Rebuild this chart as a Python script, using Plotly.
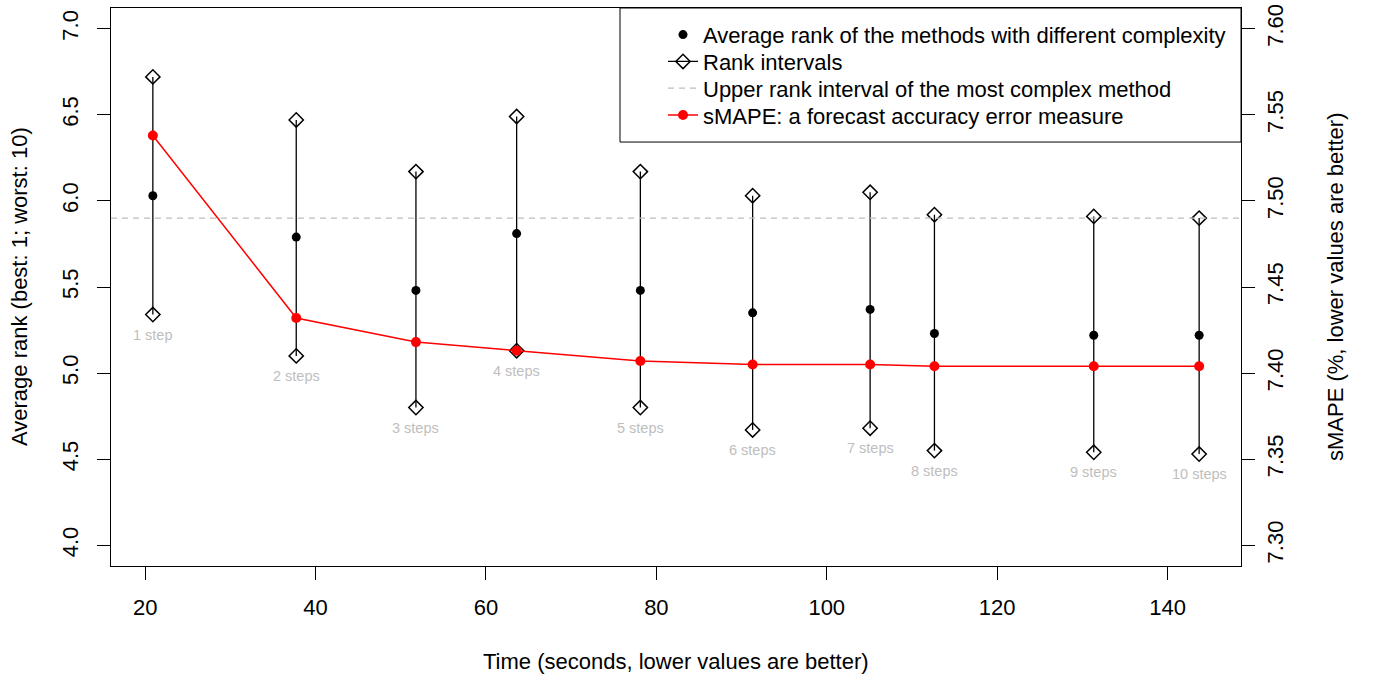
import plotly.graph_objects as go

# ---- data ----
step_labels = ["1 step", "2 steps", "3 steps", "4 steps", "5 steps",
               "6 steps", "7 steps", "8 steps", "9 steps", "10 steps"]
time_sec = [20.90, 37.73, 51.78, 63.60, 78.12, 91.30, 105.09, 112.64, 131.34, 143.71]
rank_mean = [6.03, 5.79, 5.48, 5.81, 5.48, 5.35, 5.37, 5.23, 5.22, 5.22]
rank_upper = [6.72, 6.47, 6.17, 6.49, 6.17, 6.03, 6.05, 5.92, 5.91, 5.90]
rank_lower = [5.34, 5.10, 4.80, 5.13, 4.80, 4.67, 4.68, 4.55, 4.54, 4.53]
smape = [7.538, 7.432, 7.418, 7.413, 7.407, 7.405, 7.405, 7.404, 7.404, 7.404]

x_ticks = [20, 40, 60, 80, 100, 120, 140]
y_ticks = [4.0, 4.5, 5.0, 5.5, 6.0, 6.5, 7.0]
y2_ticks = [7.30, 7.35, 7.40, 7.45, 7.50, 7.55, 7.60]
ylim = (4.0, 7.0)
y2lim = (7.30, 7.60)


def r_range(lo, hi):
    pad = (hi - lo) * 0.04
    return [lo - pad, hi + pad]


xr = r_range(min(time_sec), max(time_sec))
yr = r_range(*ylim)
y2r = r_range(*y2lim)

FONT = "Liberation Sans, Arial, Helvetica, sans-serif"
GREY = "#BEBEBE"

# plot-area geometry in pixels
W, H = 1373, 677
PL, PR, PT, PB = 111, 1241, 4, 566


def px_x(p):
    return (p - PL) / (PR - PL)


def px_y(p):
    return (PB - p) / (PB - PT)


fig = go.Figure()

# rank intervals: vertical segments with open diamonds at ends
ix, iy = [], []
for t, lo, hi in zip(time_sec, rank_lower, rank_upper):
    ix += [t, t, None]
    iy += [lo, hi, None]
fig.add_trace(go.Scatter(
    x=ix, y=iy, mode="lines+markers", name="Rank intervals", legend="legend2",
    line=dict(color="black", width=1.3),
    marker=dict(symbol="diamond-open", size=11, color="black", line=dict(width=1.5, color="black")),
    hoverinfo="skip"))

# average rank points
fig.add_trace(go.Scatter(
    x=time_sec, y=rank_mean, mode="markers", legend="legend",
    name="Average rank of the methods with different complexity",
    marker=dict(symbol="circle", size=9, color="black")))

# dashed horizontal line: upper rank interval of most complex method
fig.add_trace(go.Scatter(
    x=xr, y=[rank_upper[-1], rank_upper[-1]], mode="lines", legend="legend3",
    name="Upper rank interval of the most complex method",
    line=dict(color=GREY, width=1.3, dash="6px,5px"),
    hoverinfo="skip"))

# sMAPE on the secondary axis
fig.add_trace(go.Scatter(
    x=time_sec, y=smape, mode="lines+markers", yaxis="y2", legend="legend4",
    name="sMAPE: a forecast accuracy error measure",
    line=dict(color="#FF0000", width=1.5),
    marker=dict(symbol="circle", size=10, color="#FF0000")))

annotations = []
for t, lo, lab in zip(time_sec, rank_lower, step_labels):
    annotations.append(dict(x=t, y=lo, xref="x", yref="y", text=lab, showarrow=False,
                            yshift=-20, xanchor="center", yanchor="middle",
                            font=dict(family=FONT, size=14.5, color=GREY)))

annotations += [
    dict(x=0.5, y=0, xref="paper", yref="paper", text="Time (seconds, lower values are better)",
         showarrow=False, yshift=-95, xanchor="center", yanchor="middle",
         font=dict(family=FONT, size=22, color="black")),
    dict(x=0, y=0.5, xref="paper", yref="paper", text="Average rank (best: 1; worst: 10)",
         showarrow=False, xshift=-92, textangle=-90, xanchor="center", yanchor="middle",
         font=dict(family=FONT, size=22, color="black")),
    dict(x=1, y=0.5, xref="paper", yref="paper", text="sMAPE (%, lower values are better)",
         showarrow=False, xshift=94, textangle=-90, xanchor="center", yanchor="middle",
         font=dict(family=FONT, size=22, color="black")),
]

axis_common = dict(showgrid=False, zeroline=False, ticks="outside", ticklen=13, tickwidth=1,
                   tickcolor="black", showline=True, linecolor="black", linewidth=1,
                   tickfont=dict(family=FONT, size=22, color="black"))


def legend_row(center_px):
    return dict(x=px_x(663), y=px_y(center_px), xanchor="left", yanchor="middle",
                bgcolor="rgba(0,0,0,0)", borderwidth=0,
                font=dict(family=FONT, size=22, color="black"))


fig.update_layout(
    width=W, height=H,
    margin=dict(l=PL, r=W - PR, t=PT, b=H - PB),
    paper_bgcolor="white", plot_bgcolor="white",
    font=dict(family=FONT, size=22, color="black"),
    xaxis=dict(range=xr, tickvals=x_ticks, mirror=True, ticklabelstandoff=9, **axis_common),
    yaxis=dict(range=yr, tickvals=y_ticks, tickformat=".1f", tickangle=-90, mirror=True,
               ticklabelstandoff=10, **axis_common),
    yaxis2=dict(range=y2r, tickvals=y2_ticks, tickformat=".2f", tickangle=-90, overlaying="y",
                side="right", ticklabelstandoff=2, **axis_common),
    showlegend=True,
    legend=legend_row(31),
    legend2=legend_row(58),
    legend3=legend_row(85),
    legend4=legend_row(112),
    shapes=[dict(type="rect", xref="paper", yref="paper",
                 x0=px_x(620), x1=1, y0=px_y(139), y1=1,
                 line=dict(color="black", width=1), fillcolor="rgba(0,0,0,0)", layer="above")],
    annotations=annotations,
)

fig.write_html("out.html", config={"displayModeBar": False},
               post_script="document.body.style.margin='0';document.body.style.padding='0';")
